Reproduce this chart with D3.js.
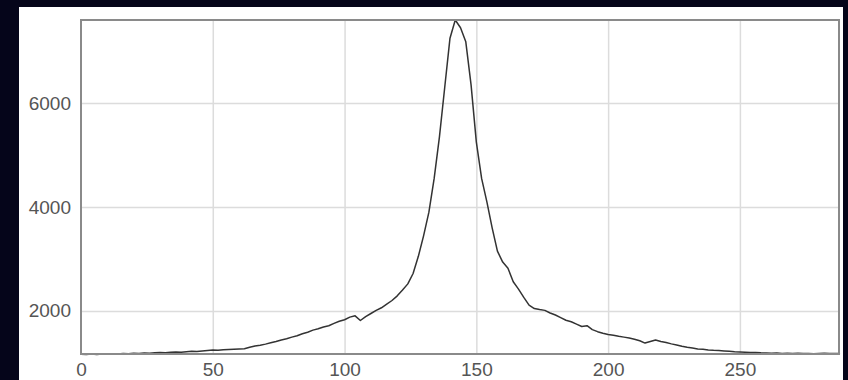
<!DOCTYPE html>
<html lang="en">
<head>
	<meta charset="UTF-8">
	<title>Spectrum</title>
	<style>
		html, body { margin: 0; padding: 0; background: #05051a; }
		svg { display: block; }
	</style>
</head>
<body>
</body>
<script src="https://cdn.jsdelivr.net/npm/d3@7/dist/d3.min.js"></script>
<script>
	// channel step is 2, first channel is 0
	var step = 2;
	var counts = [
		1165,1160,1170,1162,1168,1165,1172,1168,1178,1175,
		1185,1180,1190,1186,1195,1200,1196,1205,1210,1204,
		1215,1222,1218,1230,1238,1245,1240,1252,1258,1262,
		1265,1270,1300,1325,1340,1360,1385,1410,1440,1462,
		1495,1520,1560,1590,1630,1655,1690,1715,1760,1800,
		1830,1880,1905,1815,1890,1950,2010,2060,2130,2200,
		2290,2400,2520,2720,3050,3450,3900,4550,5350,6300,
		7250,7600,7450,7180,6350,5250,4550,4100,3600,3150,
		2940,2820,2560,2420,2260,2110,2045,2025,2010,1960,
		1920,1870,1820,1790,1745,1700,1715,1640,1600,1570,
		1545,1530,1510,1495,1480,1455,1425,1380,1410,1440,
		1410,1390,1365,1345,1320,1300,1285,1268,1260,1248,
		1240,1235,1230,1224,1215,1210,1205,1200,1198,1192,
		1190,1186,1190,1182,1185,1180,1184,1178,1182,1176,
		1180,1185,1178,1180,1182
	];
	var xTicks = [0,50,100,150,200,250];
	var yTicks = [2000,4000,6000];

	var width = 848, height = 380;
	var box = {left:81, top:20, right:839, bottom:354};

	var svg = d3.select('body')
		.append('svg')
		.attr('width', width)
		.attr('height', height);

	// white panel
	svg.append('rect')
		.attr('x', 19).attr('y', 7)
		.attr('width', 824).attr('height', 373)
		.attr('fill', '#ffffff');

	var xScale = d3.scaleLinear()
		.domain([0, 287.6])
		.range([box.left, box.right]);
	var yScale = d3.scaleLinear()
		.domain([1170, 7600])
		.range([box.bottom, box.top]);

	// grid
	var xGrid = d3.axisBottom(xScale).tickValues(xTicks.slice(1)).tickSize(-(box.bottom-box.top)).tickFormat('');
	var yGrid = d3.axisLeft(yScale).tickValues(yTicks).tickSize(-(box.right-box.left)).tickFormat('');

	svg.append('g')
		.attr('class','xGrid')
		.attr('transform','translate(0,' + box.bottom + ')')
		.call(xGrid);
	svg.append('g')
		.attr('class','yGrid')
		.attr('transform','translate(' + box.left + ',0)')
		.call(yGrid);
	svg.selectAll('.xGrid .domain, .yGrid .domain').remove();
	svg.selectAll('.xGrid line, .yGrid line')
		.attr('stroke','#dcdcdc')
		.attr('stroke-width',1.5);

	// tick labels
	var xAxis = d3.axisBottom(xScale).tickValues(xTicks).tickSize(0).tickPadding(9);
	var yAxis = d3.axisLeft(yScale).tickValues(yTicks).tickSize(0).tickPadding(10).tickFormat(d3.format('d'));

	svg.append('g')
		.attr('class','xAxis')
		.attr('transform','translate(0,' + box.bottom + ')')
		.call(xAxis);
	svg.append('g')
		.attr('class','yAxis')
		.attr('transform','translate(' + box.left + ',0)')
		.call(yAxis);
	svg.selectAll('.xAxis .domain, .yAxis .domain').remove();
	svg.selectAll('.xAxis text, .yAxis text')
		.attr('fill','#555')
		.style('font-family','"Liberation Sans", Arial, sans-serif')
		.style('font-size','19px');

	// curve
	var line = d3.line()
		.x(function(d, i){ return xScale(i * step); })
		.y(function(d){ return yScale(d); });

	svg.append('path')
		.datum(counts)
		.attr('d', line)
		.attr('fill','none')
		.attr('stroke','#333')
		.attr('stroke-width',1.5)
		.attr('stroke-linejoin','round');

	// frame
	svg.append('rect')
		.attr('x', box.left).attr('y', box.top)
		.attr('width', box.right - box.left)
		.attr('height', box.bottom - box.top)
		.attr('fill','none')
		.attr('stroke','#8a8a8a')
		.attr('stroke-width',2);
</script>
</html>
